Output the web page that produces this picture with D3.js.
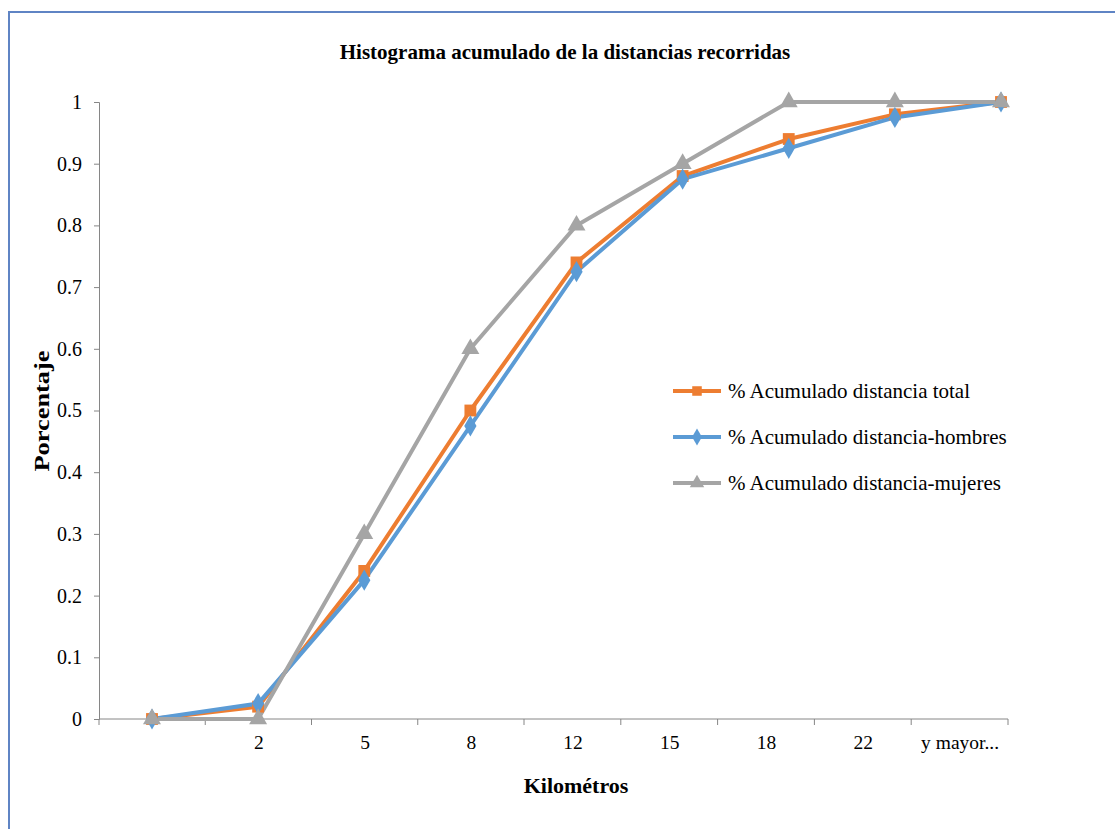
<!DOCTYPE html>
<html>
<head>
<meta charset="utf-8">
<script src="https://cdnjs.cloudflare.com/ajax/libs/d3/7.8.5/d3.min.js"></script>
<style>
  body { margin: 0; background: #fff; }
  text { font-family: "Liberation Serif", "Times New Roman", serif; fill: #000; }
</style>
</head>
<body>
<svg id="chart" width="1115" height="829"></svg>
<script>
const categories = ["", "2", "5", "8", "12", "15", "18", "22", "y mayor..."];
const total = [0, 0.02, 0.24, 0.50, 0.74, 0.88, 0.94, 0.98, 1.0];
const hombres = [0, 0.025, 0.225, 0.475, 0.725, 0.875, 0.925, 0.975, 1.0];
const mujeres = [0, 0, 0.3, 0.6, 0.8, 0.9, 1.0, 1.0, 1.0];
const yTicks = [0, 0.1, 0.2, 0.3, 0.4, 0.5, 0.6, 0.7, 0.8, 0.9, 1];
const seriesNames = ["% Acumulado distancia total", "% Acumulado distancia-hombres", "% Acumulado distancia-mujeres"];

const series = [
  { name: seriesNames[0], values: total, color: "#ED7D31", symbol: d3.symbolSquare, size: 140 },
  { name: seriesNames[1], values: hombres, color: "#5B9BD5", symbol: d3.symbolDiamond, size: 130 },
  { name: seriesNames[2], values: mujeres, color: "#A5A5A5", symbol: d3.symbolTriangle, size: 140 }
];

const svg = d3.select("#chart");
const axisColor = "#868686";

// marco del grafico
svg.append("path")
  .attr("d", "M9,829 L9,12 L1115,12")
  .attr("fill", "none")
  .attr("stroke", "#5F84C4")
  .attr("stroke-width", 2);

// posiciones de los puntos
const x = d3.scalePoint()
  .domain(categories)
  .range([152, 1001]);

// limites de las categorias en el eje (escala por tramos)
const bound = d3.scaleLinear()
  .domain([0, 4, categories.length])
  .range([99, 524, 1008]);

const xLabel = d3.scaleOrdinal()
  .domain(categories)
  .range(categories.map((c, i) => (bound(i) + bound(i + 1)) / 2));

const y = d3.scaleLinear()
  .domain([0, 1])
  .range([719, 102]);

// titulo
svg.append("text")
  .attr("x", 565)
  .attr("y", 59)
  .attr("text-anchor", "middle")
  .attr("font-weight", "bold")
  .attr("font-size", 21)
  .text("Histograma acumulado de la distancias recorridas");

// eje y
const yAxis = svg.append("g")
  .attr("transform", "translate(99,0)")
  .call(d3.axisLeft(y).tickValues(yTicks).tickSize(5).tickPadding(12).tickFormat(d => d === 0 || d === 1 ? d3.format("d")(d) : d3.format(".1f")(d)));
yAxis.select(".domain").attr("stroke", axisColor);
yAxis.selectAll(".tick line").attr("stroke", axisColor);
yAxis.selectAll(".tick text").attr("font-size", 20);

// eje x
const xAxis = svg.append("g")
  .attr("transform", "translate(0,719)")
  .call(d3.axisBottom(xLabel).tickSize(0).tickPadding(16));
xAxis.select(".domain").remove();
xAxis.selectAll(".tick text").attr("font-size", 19.5);

xAxis.append("line")
  .attr("x1", bound(0))
  .attr("x2", bound(categories.length))
  .attr("stroke", axisColor);

// marcas entre categorias
xAxis.selectAll(".bound")
  .data(d3.range(categories.length + 1))
  .enter()
  .append("line")
  .attr("x1", d => bound(d))
  .attr("x2", d => bound(d))
  .attr("y1", 0)
  .attr("y2", 6)
  .attr("stroke", axisColor);

// titulos de ejes
svg.append("text")
  .attr("x", 576)
  .attr("y", 793)
  .attr("text-anchor", "middle")
  .attr("font-weight", "bold")
  .attr("font-size", 22)
  .text("Kilométros");

svg.append("text")
  .attr("transform", "translate(49,411) rotate(-90) scale(1.2,1)")
  .attr("text-anchor", "middle")
  .attr("font-weight", "bold")
  .attr("font-size", 22)
  .text("Porcentaje");

// lineas
const line = d3.line()
  .x((d, i) => x(categories[i]))
  .y(d => y(d));

series.forEach(s => {
  svg.append("path")
    .datum(s.values)
    .attr("fill", "none")
    .attr("stroke", s.color)
    .attr("stroke-width", 4)
    .attr("stroke-linejoin", "round")
    .attr("d", line);
});

series.forEach(s => {
  svg.append("g")
    .selectAll("path")
    .data(s.values)
    .enter()
    .append("path")
    .attr("d", d3.symbol().type(s.symbol).size(s.size))
    .attr("transform", (d, i) => `translate(${x(categories[i])},${y(d)})`)
    .attr("fill", s.color);
});

// leyenda
const legend = svg.append("g").attr("transform", "translate(673,391)");
series.forEach((s, i) => {
  const g = legend.append("g").attr("transform", `translate(0,${i * 46})`);
  g.append("line")
    .attr("x1", 0).attr("x2", 48)
    .attr("y1", 0).attr("y2", 0)
    .attr("stroke", s.color)
    .attr("stroke-width", 4);
  g.append("path")
    .attr("d", d3.symbol().type(s.symbol).size(s.size * 0.65))
    .attr("transform", "translate(24,0)")
    .attr("fill", s.color);
  g.append("text")
    .attr("x", 55)
    .attr("y", 7)
    .attr("font-size", 21)
    .text(s.name);
});
</script>
</body>
</html>
